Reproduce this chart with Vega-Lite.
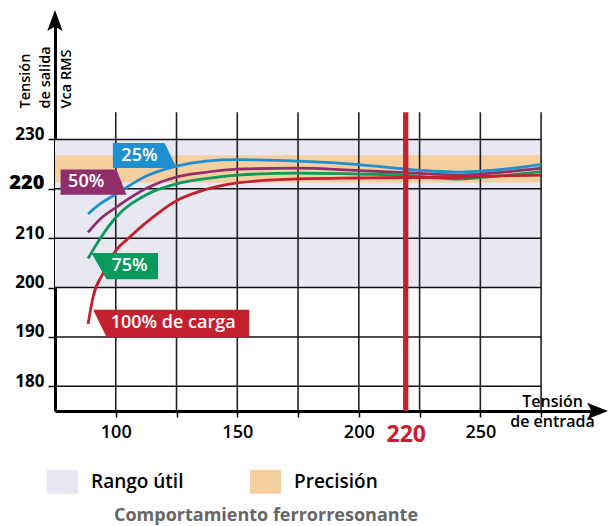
{
  "$schema": "https://vega.github.io/schema/vega-lite/v6.json",
  "width": 542,
  "height": 390,
  "autosize": {"type": "none"},
  "padding": {"left": 55, "top": 21, "right": 12, "bottom": 115},
  "background": "white",
  "config": {
    "view": {"stroke": null},
    "font": "Open Sans",
    "axis": {
      "grid": false,
      "domainColor": "black",
      "domainWidth": 3,
      "tickColor": "black",
      "tickWidth": 1.5,
      "labelColor": "black",
      "labelFont": "Open Sans",
      "titleFont": "Open Sans",
      "titleColor": "black"
    }
  },
  "title": {
    "text": "Comportamiento ferrorresonante",
    "orient": "bottom",
    "anchor": "middle",
    "frame": "group",
    "font": "Open Sans",
    "fontSize": 18,
    "fontWeight": 700,
    "color": "#666666",
    "offset": 13,
    "dx": -60
  },
  "datasets": {
    "bands": [
      {"zone": "Rango útil", "x0": 75, "x1": 275, "y0": 200, "y1": 230},
      {"zone": "Precisión", "x0": 75, "x1": 275, "y0": 221.3, "y1": 226.8}
    ],
    "gridx": [{"v": 100}, {"v": 125}, {"v": 150}, {"v": 175}, {"v": 200}, {"v": 225}, {"v": 250}, {"v": 275}],
    "gridy": [{"v": 180}, {"v": 190}, {"v": 200}, {"v": 210}, {"v": 220}, {"v": 230}],
    "curves": [
      {"carga": "25%", "entrada": 88.6, "salida": 214.9},
      {"carga": "25%", "entrada": 93.4, "salida": 216.9},
      {"carga": "25%", "entrada": 100, "salida": 218.9},
      {"carga": "25%", "entrada": 112.6, "salida": 222.6},
      {"carga": "25%", "entrada": 125, "salida": 224.6},
      {"carga": "25%", "entrada": 137, "salida": 225.6},
      {"carga": "25%", "entrada": 150, "salida": 225.9},
      {"carga": "25%", "entrada": 175, "salida": 225.6},
      {"carga": "25%", "entrada": 200, "salida": 224.9},
      {"carga": "25%", "entrada": 219, "salida": 224.0},
      {"carga": "25%", "entrada": 230, "salida": 223.6},
      {"carga": "25%", "entrada": 240, "salida": 223.4},
      {"carga": "25%", "entrada": 250, "salida": 223.6},
      {"carga": "25%", "entrada": 262, "salida": 224.1},
      {"carga": "25%", "entrada": 275, "salida": 224.9},
      {"carga": "50%", "entrada": 88.6, "salida": 211.2},
      {"carga": "50%", "entrada": 93.4, "salida": 213.8},
      {"carga": "50%", "entrada": 100, "salida": 216.2},
      {"carga": "50%", "entrada": 112.6, "salida": 220.1},
      {"carga": "50%", "entrada": 125, "salida": 222.4},
      {"carga": "50%", "entrada": 134.6, "salida": 223.2},
      {"carga": "50%", "entrada": 150, "salida": 224.0},
      {"carga": "50%", "entrada": 175, "salida": 224.2},
      {"carga": "50%", "entrada": 200, "salida": 223.7},
      {"carga": "50%", "entrada": 219, "salida": 223.3},
      {"carga": "50%", "entrada": 230, "salida": 223.0},
      {"carga": "50%", "entrada": 240, "salida": 222.8},
      {"carga": "50%", "entrada": 250, "salida": 223.0},
      {"carga": "50%", "entrada": 262, "salida": 223.5},
      {"carga": "50%", "entrada": 275, "salida": 224.2},
      {"carga": "75%", "entrada": 88.6, "salida": 205.9},
      {"carga": "75%", "entrada": 93.4, "salida": 209.8},
      {"carga": "75%", "entrada": 100, "salida": 214.2},
      {"carga": "75%", "entrada": 112.6, "salida": 218.8},
      {"carga": "75%", "entrada": 125, "salida": 221.0},
      {"carga": "75%", "entrada": 134.6, "salida": 221.9},
      {"carga": "75%", "entrada": 150, "salida": 222.8},
      {"carga": "75%", "entrada": 175, "salida": 223.2},
      {"carga": "75%", "entrada": 200, "salida": 223.0},
      {"carga": "75%", "entrada": 219, "salida": 222.8},
      {"carga": "75%", "entrada": 230, "salida": 222.3},
      {"carga": "75%", "entrada": 240, "salida": 222.0},
      {"carga": "75%", "entrada": 250, "salida": 222.3},
      {"carga": "75%", "entrada": 262, "salida": 222.8},
      {"carga": "75%", "entrada": 275, "salida": 223.5},
      {"carga": "100%", "entrada": 88.6, "salida": 192.6},
      {"carga": "100%", "entrada": 90.7, "salida": 198.2},
      {"carga": "100%", "entrada": 94.8, "salida": 202.9},
      {"carga": "100%", "entrada": 100, "salida": 207.5},
      {"carga": "100%", "entrada": 105, "salida": 209.9},
      {"carga": "100%", "entrada": 112.6, "salida": 213.2},
      {"carga": "100%", "entrada": 125, "salida": 217.6},
      {"carga": "100%", "entrada": 134.6, "salida": 219.5},
      {"carga": "100%", "entrada": 150, "salida": 221.2},
      {"carga": "100%", "entrada": 175, "salida": 222.0},
      {"carga": "100%", "entrada": 200, "salida": 222.2},
      {"carga": "100%", "entrada": 219, "salida": 222.3},
      {"carga": "100%", "entrada": 240, "salida": 222.3},
      {"carga": "100%", "entrada": 250, "salida": 222.5},
      {"carga": "100%", "entrada": 275, "salida": 222.8}
    ],
    "tags": [
      {"carga": "25%", "x": 98.8, "top": 229.3, "bottom": 224.2},
      {"carga": "25%", "x": 120.1, "top": 229.3, "bottom": 224.2},
      {"carga": "25%", "x": 125.0, "top": 224.2, "bottom": 224.2},
      {"carga": "50%", "x": 77.3, "top": 223.9, "bottom": 218.8},
      {"carga": "50%", "x": 100.3, "top": 223.9, "bottom": 218.8},
      {"carga": "50%", "x": 104.4, "top": 218.8, "bottom": 218.8},
      {"carga": "75%", "x": 90.0, "top": 207.0, "bottom": 207.0},
      {"carga": "75%", "x": 96.2, "top": 207.0, "bottom": 201.7},
      {"carga": "75%", "x": 117.4, "top": 207.0, "bottom": 201.7},
      {"carga": "100%", "x": 90.7, "top": 195.5, "bottom": 195.5},
      {"carga": "100%", "x": 96.2, "top": 195.5, "bottom": 190.0},
      {"carga": "100%", "x": 154.9, "top": 195.5, "bottom": 190.0}
    ],
    "tagText": [
      {"label": "25%", "x": 102.3, "y": 226.75},
      {"label": "50%", "x": 80.4, "y": 221.35},
      {"label": "75%", "x": 98.2, "y": 204.35},
      {"label": "100% de carga", "x": 97.9, "y": 192.75}
    ],
    "marker": [{"entrada": 219.3}],
    "arrowY": [{"x": 75, "y": 254}],
    "arrowX": [{"x": 298, "y": 175}]
  },
  "resolve": {"scale": {"color": "independent"}, "legend": {"color": "independent"}},
  "layer": [
    {
      "data": {"name": "bands"},
      "mark": {"type": "rect"},
      "encoding": {
        "x": {
          "field": "x0", "type": "quantitative",
          "scale": {"domain": [75, 298], "nice": false, "zero": false},
          "axis": {
            "values": [100, 125, 150, 175, 200, 219.3, 225, 250, 275],
            "labelExpr": "(datum.value == 100 || datum.value == 150 || datum.value == 200 || datum.value == 250) ? datum.label : ((datum.value > 219 && datum.value < 220) ? '220' : '')",
            "labelFontSize": {"condition": {"test": "datum.value > 219 && datum.value < 220", "value": 23}, "value": 18},
            "labelFontWeight": {"condition": {"test": "datum.value > 219 && datum.value < 220", "value": 700}, "value": 600},
            "labelColor": {"condition": {"test": "datum.value > 219 && datum.value < 220", "value": "#C5202E"}, "value": "black"},
            "tickColor": {"condition": {"test": "datum.value > 219 && datum.value < 220", "value": "transparent"}, "value": "black"},
            "tickSize": 6,
            "labelPadding": 6,
            "labelBaseline": "top",
            "labelFlush": false,
            "labelOverlap": false,
            "title": ["Tensión", "de entrada"],
            "titleAngle": 0,
            "titleAlign": "center",
            "titleBaseline": "middle",
            "titleX": 497,
            "titleY": -10,
            "titleLineHeight": 20,
            "titleFontSize": 16,
            "titleFontWeight": 600
          }
        },
        "x2": {"field": "x1"},
        "y": {
          "field": "y0", "type": "quantitative",
          "scale": {"domain": [175, 254], "nice": false, "zero": false},
          "axis": {
            "values": [180, 190, 200, 210, 220, 230],
            "labelFontSize": {"condition": {"test": "datum.value == 220", "value": 20}, "value": 17},
            "labelFontWeight": {"condition": {"test": "datum.value == 220", "value": 800}, "value": 700},
            "labelBaseline": "alphabetic",
            "labelPadding": 4,
            "tickSize": 7,
            "title": ["Tensión", "de salida", "Vca RMS"],
            "titleAngle": 270,
            "titleAlign": "left",
            "titleBaseline": "middle",
            "titleX": -30,
            "titleY": 87,
            "titleLineHeight": 20.7,
            "titleFontSize": 14.5,
            "titleFontWeight": 600
          }
        },
        "y2": {"field": "y1"},
        "color": {
          "field": "zone", "type": "nominal",
          "scale": {"domain": ["Rango útil", "Precisión"], "range": ["#E7E8F1", "#F6CF9F"]},
          "legend": {
            "orient": "none",
            "legendX": -8,
            "legendY": 445,
            "direction": "horizontal",
            "title": null,
            "padding": 0,
            "symbolType": "M-1,-0.77H1V0.77H-1Z",
            "symbolSize": 961,
            "symbolStrokeWidth": 0,
            "symbolOpacity": 1,
            "labelFont": "Open Sans",
            "labelFontSize": 19,
            "labelFontWeight": 600,
            "labelColor": "black",
            "labelOffset": 13,
            "columnPadding": 66
          }
        }
      }
    },
    {
      "data": {"name": "gridx"},
      "mark": {"type": "rule", "color": "#222222", "strokeWidth": 1.6},
      "encoding": {
        "x": {"field": "v", "type": "quantitative"},
        "y": {"datum": 175, "type": "quantitative"},
        "y2": {"datum": 235.5}
      }
    },
    {
      "data": {"name": "gridy"},
      "mark": {"type": "rule", "color": "#111111", "strokeWidth": 1.5},
      "encoding": {
        "y": {"field": "v", "type": "quantitative"},
        "x": {"datum": 75, "type": "quantitative"},
        "x2": {"datum": 275}
      }
    },
    {
      "data": {"name": "curves"},
      "mark": {"type": "line", "interpolate": "monotone", "strokeWidth": 2.8},
      "encoding": {
        "x": {"field": "entrada", "type": "quantitative"},
        "y": {"field": "salida", "type": "quantitative"},
        "color": {
          "field": "carga", "type": "nominal",
          "scale": {"domain": ["25%", "50%", "75%", "100%"], "range": ["#1E8FD0", "#912F6D", "#0B9A5E", "#C5202E"]},
          "legend": null
        }
      }
    },
    {
      "data": {"name": "tags"},
      "mark": {"type": "area", "opacity": 1},
      "encoding": {
        "x": {"field": "x", "type": "quantitative"},
        "y": {"field": "top", "type": "quantitative"},
        "y2": {"field": "bottom"},
        "color": {
          "field": "carga", "type": "nominal",
          "scale": {"domain": ["25%", "50%", "75%", "100%"], "range": ["#1E8FD0", "#912F6D", "#0B9A5E", "#C5202E"]},
          "legend": null
        }
      }
    },
    {
      "data": {"name": "tagText"},
      "mark": {"type": "text", "align": "left", "baseline": "middle", "color": "white", "font": "Open Sans", "fontSize": 18, "fontWeight": 600},
      "encoding": {
        "x": {"field": "x", "type": "quantitative"},
        "y": {"field": "y", "type": "quantitative"},
        "text": {"field": "label"}
      }
    },
    {
      "data": {"name": "marker"},
      "mark": {"type": "rule", "color": "#C5202E", "strokeWidth": 5.3},
      "encoding": {
        "x": {"field": "entrada", "type": "quantitative"},
        "y": {"datum": 175, "type": "quantitative"},
        "y2": {"datum": 235.5}
      }
    },
    {
      "data": {"name": "arrowY"},
      "mark": {"type": "point", "shape": "M0,-1L0.7,0.9L0,0.5L-0.7,0.9Z", "filled": true, "color": "black", "opacity": 1, "size": 484, "strokeWidth": 0},
      "encoding": {
        "x": {"field": "x", "type": "quantitative"},
        "y": {"field": "y", "type": "quantitative"}
      }
    },
    {
      "data": {"name": "arrowX"},
      "mark": {"type": "point", "shape": "M1,0L-0.9,-0.75L-0.5,0L-0.9,0.75Z", "filled": true, "color": "black", "opacity": 1, "size": 484, "strokeWidth": 0},
      "encoding": {
        "x": {"field": "x", "type": "quantitative"},
        "y": {"field": "y", "type": "quantitative"}
      }
    }
  ]
}
